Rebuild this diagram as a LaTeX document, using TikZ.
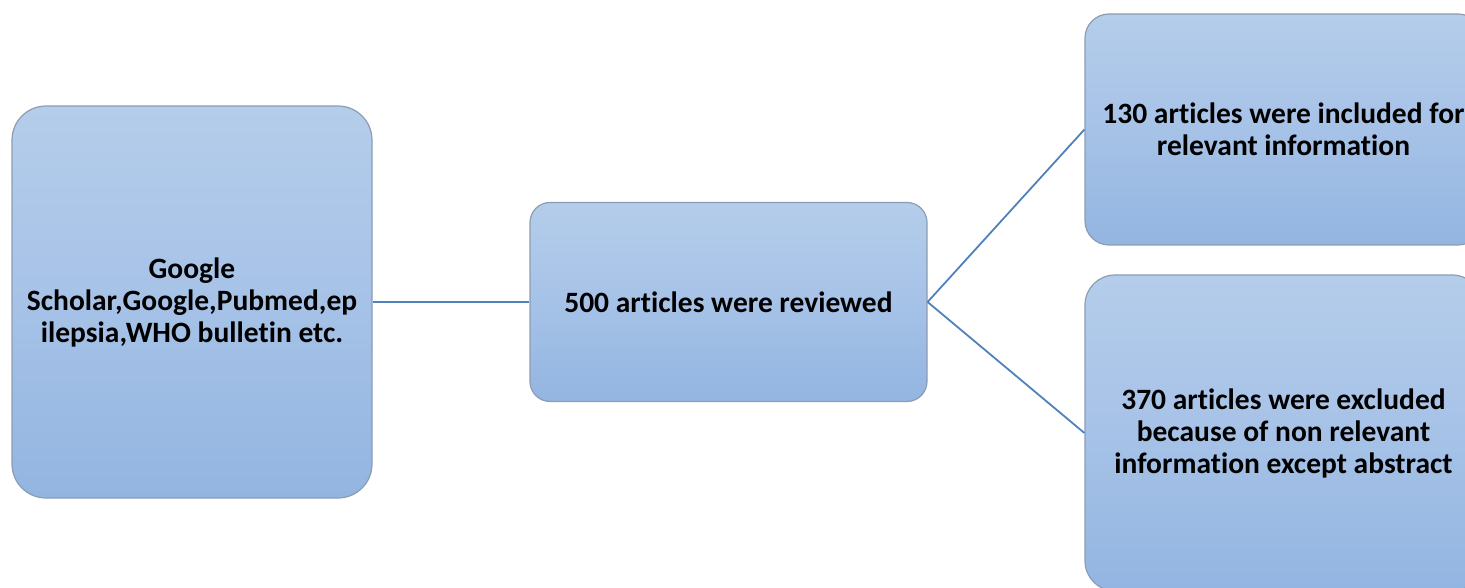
\documentclass[tikz,border=0pt]{standalone}
\usepackage{fontspec}
\setmainfont{Carlito}[Ligatures=NoCommon]
\usetikzlibrary{positioning}
\definecolor{boxtop}{HTML}{B4CDEA}
\definecolor{boxmid}{HTML}{A6C2E7}
\definecolor{boxbottom}{HTML}{93B5E1}
\definecolor{boxedge}{HTML}{8C9DB3}
\definecolor{linkblue}{HTML}{4F81BD}

\begin{document}
\begin{tikzpicture}[
    x=1pt, y=-1pt,
    stepbox/.style={
        draw=boxedge, line width=1.2pt,
        top color=boxtop, bottom color=boxbottom, middle color=boxmid,
        font=\fontsize{29.5}{32}\selectfont\bfseries,
        align=center, inner sep=0pt
    },
    link/.style={
        draw=linkblue, line width=1.8pt
    },
]

% === Canvas ===
\useasboundingbox (0,0) rectangle (1465,588);

% === Boxes ===
\node[stepbox, rounded corners=34pt, minimum width=360pt, minimum height=392pt]
    (source) at (192,302) {Google\\Scholar,Google,Pubmed,ep\\ilepsia,WHO bulletin etc.};

\node[stepbox, rounded corners=20pt, minimum width=397pt, minimum height=199pt]
    (review) at (728.5,302) {500 articles were reviewed};

\node[stepbox, rounded corners=24pt, minimum width=397pt, minimum height=231pt]
    (include) at (1283.5,129.5) {130 articles were included for\\relevant information};

\node[stepbox, rounded corners=30pt, minimum width=397pt, minimum height=316pt]
    (exclude) at (1283.5,433) {370 articles were excluded\\because of non relevant\\information except abstract};

% === Connectors ===
\draw[link] (source.east) -- (review.west);
\draw[link] (review.east) -- (include.west);
\draw[link] (review.east) -- (exclude.west);

\end{tikzpicture}
\end{document}
